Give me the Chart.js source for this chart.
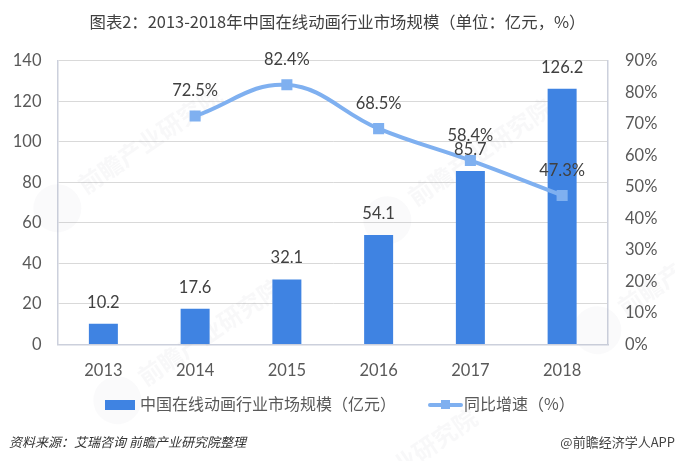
<!DOCTYPE html>
<html><head><meta charset="utf-8">
<style>html,body{margin:0;padding:0;background:#fff}#w{position:absolute;left:0;top:0;width:675px;height:461px}</style>
<script src="https://cdn.jsdelivr.net/npm/chart.js@4/dist/chart.umd.min.js"></script>
</head><body><div id="w"><canvas id="c"></canvas></div>
<script>
const categories=["2013","2014","2015","2016","2017","2018"];
const marketSize=[10.2,17.6,32.1,54.1,85.7,126.2];
const growth=[null,72.5,82.4,68.5,58.4,47.3];
const titleText="图表2：2013-2018年中国在线动画行业市场规模（单位：亿元，%）";
const barLabel="中国在线动画行业市场规模（亿元）";
const lineLabel="同比增速（%）";
const sourceText="资料来源：艾瑞咨询 前瞻产业研究院整理";
const brandText="@前瞻经济学人APP";
const watermark="前瞻产业研究院";
const CJK='"Noto Sans CJK SC"';
const NUM='Lato,"Liberation Sans",sans-serif';
const BAR="#3f83e2",LINE="#7fb0f0",TXT="#595959",AXIS="#ccd0dc";

const extras={id:"extras",
 beforeDatasetsDraw(ch){const x=ch.ctx;x.save();
  x.font='700 24px '+CJK;x.textAlign="center";x.textBaseline="middle";
  [[150,140],[210,332],[480,152],[690,262],[405,462]].forEach(p=>{x.save();x.translate(p[0],p[1]);x.rotate(-0.6);
   x.fillStyle="rgba(150,160,175,0.07)";x.fillText(watermark,0,0);
   x.beginPath();x.arc(-115,4,24,0,Math.PI*2);x.fillStyle="rgba(150,160,175,0.05)";x.fill();
   x.restore();});
  x.restore();},
 afterDatasetsDraw(ch){const x=ch.ctx;x.save();x.textAlign="center";x.textBaseline="middle";
  x.font='16.5px '+NUM;x.fillStyle="#404040";
  ch.getDatasetMeta(0).data.forEach((e,i)=>x.fillText(marketSize[i].toFixed(1),e.x,e.y-21.5));
  ch.getDatasetMeta(1).data.forEach((e,i)=>{if(growth[i]!=null)x.fillText(growth[i].toFixed(1)+"%",e.x,e.y-25);});
  // legend
  x.fillStyle=BAR;x.fillRect(105,400,30,10);
  x.textAlign="left";x.fillStyle=TXT;x.font='16px '+CJK;
  x.fillText(barLabel,140,404);
  x.strokeStyle=LINE;x.lineWidth=4;x.lineCap="round";x.beginPath();x.moveTo(430,405);x.lineTo(461,405);x.stroke();
  x.fillStyle=LINE;x.fillRect(441,400,9,9);
  x.fillStyle=TXT;x.fillText(lineLabel,464,404);
  // footer
  x.font='italic 13px '+CJK;x.fillStyle="#333";x.fillText(sourceText,9,442.5);
  x.font='13px '+CJK;x.textAlign="right";x.fillStyle="#444";x.fillText(brandText,675,442.5);
  x.restore();}
};

new Chart(document.getElementById("c"),{
 type:"bar",
 data:{labels:categories,datasets:[
  {type:"bar",label:barLabel,data:marketSize,backgroundColor:BAR,yAxisID:"y",order:2,barPercentage:0.316,categoryPercentage:1},
  {type:"line",label:lineLabel,data:growth,yAxisID:"y1",order:1,borderColor:LINE,backgroundColor:LINE,borderWidth:4,tension:0.4,pointStyle:"rect",pointRadius:5,pointBackgroundColor:LINE,pointBorderColor:LINE,spanGaps:false}
 ]},
 options:{responsive:true,maintainAspectRatio:false,animation:false,devicePixelRatio:1,
  layout:{padding:0},
  plugins:{legend:{display:false},tooltip:{enabled:false},
   title:{display:true,text:titleText,color:"#404040",font:{family:CJK,size:16.4,weight:"normal"},padding:{top:12,bottom:29.2}}},
  scales:{
   x:{grid:{display:false},border:{color:AXIS,width:1.5},ticks:{color:TXT,font:{family:NUM,size:16.5},padding:8,maxRotation:0},afterFit(s){s.height=116.5;}},
   y:{min:0,max:140,position:"left",ticks:{stepSize:20,color:TXT,font:{family:NUM,size:16.5},padding:16},grid:{color:"#d9d9d9",drawTicks:false,lineWidth:1},border:{color:AXIS,width:1.5},afterFit(s){s.width=57.5;}},
   y1:{min:0,max:90,position:"right",ticks:{stepSize:10,color:TXT,font:{family:NUM,size:16.5},padding:17,callback:v=>v+"%"},grid:{display:false,drawTicks:false},border:{color:AXIS,width:1.5},afterFit(s){s.width=67;}}
  }},
 plugins:[extras]
});
</script></body></html>
